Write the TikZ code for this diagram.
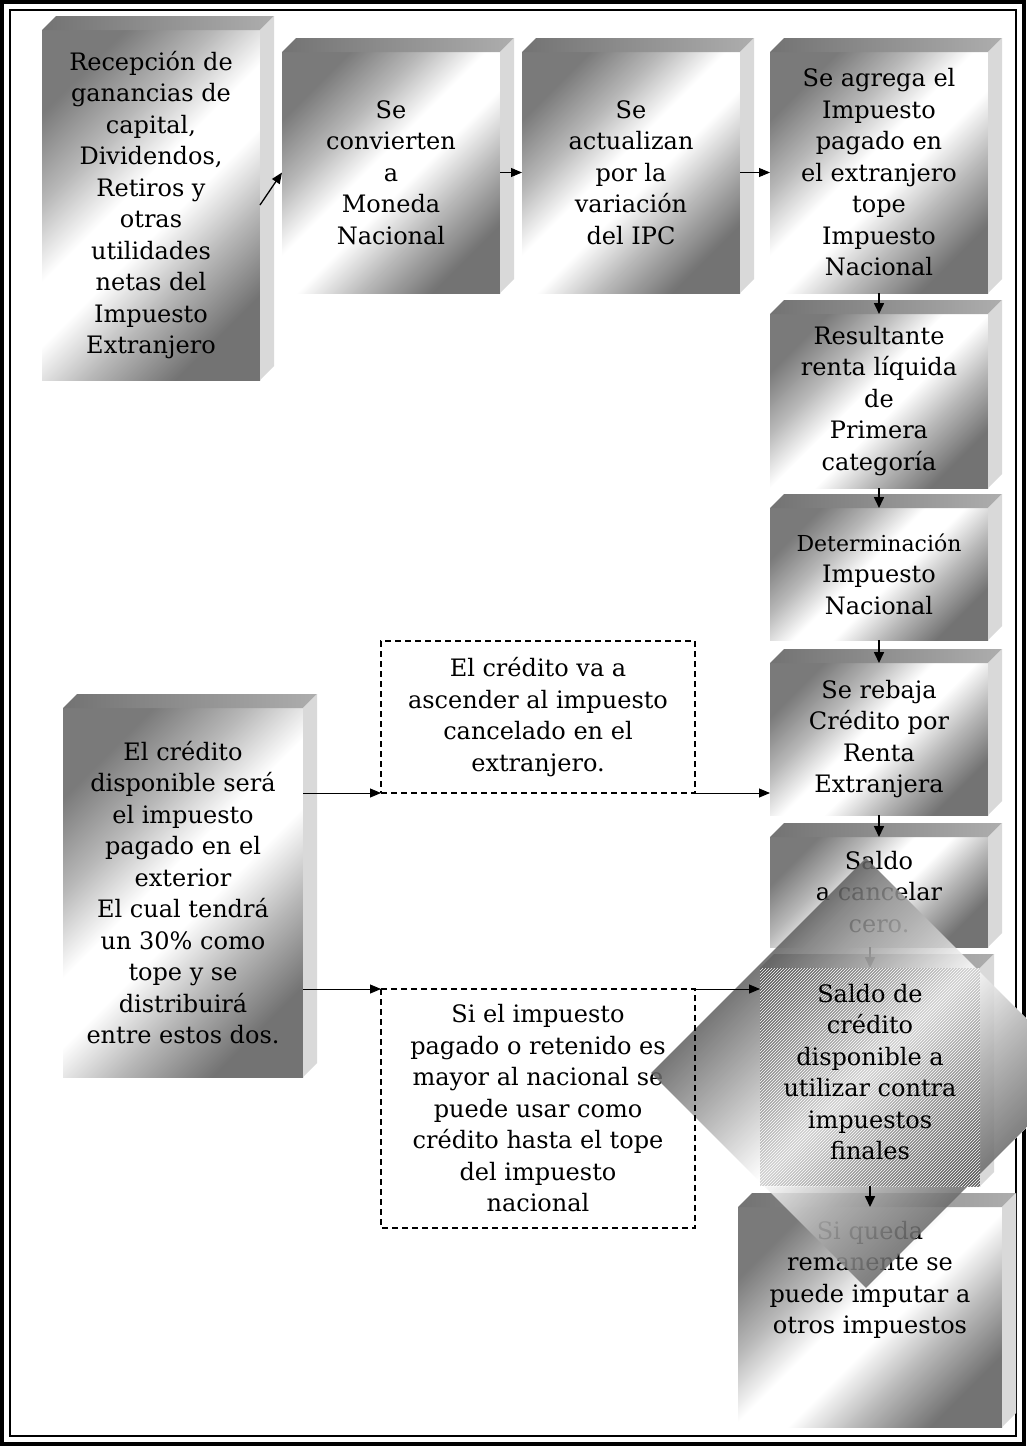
\documentclass[tikz,border=0pt]{standalone}
\usepackage{fontspec}
\setmainfont{DejaVu Serif}
\usetikzlibrary{arrows.meta,patterns}
\pgfdeclareverticalshading{boxsh}{100bp}{color(0bp)=(black!55); color(25bp)=(black!55); color(36bp)=(black!28); color(46bp)=(white); color(54bp)=(white); color(64bp)=(black!28); color(75bp)=(black!52); color(100bp)=(black!52)}
\pgfdeclareverticalshading{diash}{100bp}{color(0bp)=(black!58); color(25bp)=(black!58); color(38bp)=(black!30); color(50bp)=(white); color(62bp)=(black!30); color(75bp)=(black!62); color(100bp)=(black!62)}
\tikzset{
  face/.style={shade, shading=boxsh, shading angle=45, inner sep=0pt, outer sep=0pt, align=center,
    font=\fontsize{24}{31.5}\selectfont},
  sz/.style 2 args={minimum width=#1, minimum height=#2},
  topface/.style={left color=black!55, right color=black!32},
  sideface/.style={fill=black!15},
  txt/.style={align=center, inner sep=0pt, font=\fontsize{24}{31.5}\selectfont},
  dbox/.style={align=center, inner sep=0pt, outer sep=0pt, font=\fontsize{24}{31.5}\selectfont},
  dashline/.style={line width=1.2pt, dash pattern=on 6pt off 4pt},
  arr/.style={-{Triangle[length=11pt,width=9pt]}, line width=0.9pt},
  varr/.style={-{Triangle[length=11pt,width=10pt]}, line width=1.6pt}
}
\newcommand\boxsides[1]{%
  \shade[topface] (#1.north west) -- ++(14,-14) -- ([shift={(14,-14)}]#1.north east) -- (#1.north east) -- cycle;
  \fill[sideface] (#1.north east) -- ++(14,-14) -- ([shift={(14,-14)}]#1.south east) -- (#1.south east) -- cycle;}
\begin{document}
\begin{tikzpicture}[x=1pt,y=-1pt]
\useasboundingbox (0,0) rectangle (1026,1446);
\fill[white] (0,0) rectangle (1026,1446);
% frame
\draw[line width=4pt] (2,2) rectangle (1024,1444);
\draw[line width=1.5pt] (10,10) rectangle (1016,1436);

% top row
\node[face, sz={218pt}{350pt}] (B1) at (151,205) {Recepción de\\ganancias de\\capital,\\Dividendos,\\Retiros y\\otras\\utilidades\\netas del\\Impuesto\\Extranjero};
\boxsides{B1}
\node[face, sz={218pt}{241pt}] (B2) at (391,172.5) {Se\\convierten\\a\\Moneda\\Nacional};
\boxsides{B2}
\node[face, sz={218pt}{241pt}] (B3) at (631,172.5) {Se\\actualizan\\por la\\variación\\del IPC};
\boxsides{B3}
\node[face, sz={218pt}{241pt}] (B4) at (879,172.5) {Se agrega el\\Impuesto\\pagado en\\el extranjero\\tope\\Impuesto\\Nacional};
\boxsides{B4}
% right column
\node[face, sz={218pt}{174pt}] (B5) at (879,401) {Resultante\\renta líquida\\de\\Primera\\categoría};
\boxsides{B5}
\node[face, sz={218pt}{132pt}] (B6) at (879,574) {{\fontsize{22}{31.5}\selectfont Determinación}\\Impuesto\\Nacional};
\boxsides{B6}
\node[face, sz={218pt}{152pt}] (B7) at (879,739) {Se rebaja\\Crédito por\\Renta\\Extranjera};
\boxsides{B7}
\node[face, sz={218pt}{110pt}] (B8) at (879,892) {Saldo\\a cancelar\\cero.};
\boxsides{B8}
\node[face, sz={220pt}{218pt}] (B9) at (870,1077) {};
\boxsides{B9}
\node[face, sz={264pt}{220pt}] (B10) at (870,1317) {};
\boxsides{B10}
\node[txt] (B10t) at (870,1280) {Si queda\\remanente se\\puede imputar a\\otros impuestos};

% left box
\node[face, sz={240pt}{369pt}] (L) at (183,892.5) {El crédito\\disponible será\\el impuesto\\pagado en el\\exterior\\El cual tendrá\\un 30\% como\\tope y se\\distribuirá\\entre estos dos.};
\boxsides{L}

% dashed boxes
\node[dbox, dashline, draw, sz={314pt}{152pt}] (A) at (538,717) {El crédito va a\\ascender al impuesto\\cancelado en el\\extranjero.};
\node[dbox, sz={314pt}{239pt}] (B) at (538,1108.5) {Si el impuesto\\pagado o retenido es\\mayor al nacional se\\puede usar como\\crédito hasta el tope\\del impuesto\\nacional};

% arrow under the diamond
\draw[varr] (B8.south -| B9.north) -- (B9.north);

% diamond
\begin{scope}
  \clip (1003,0) rectangle (1026,1446);
  \fill[white] (866,858) -- (1081,1073) -- (866,1288) -- (651,1073) -- cycle;
\end{scope}
\begin{scope}[transform canvas={shift={(866,1073)}, rotate=45}]
  \shade[shading=diash, fill opacity=0.86]
    (-152,-152) rectangle (152,152);
\end{scope}
% hatched overlap
\fill[black, opacity=0.18] (B9.north west) rectangle (B9.south east);
\fill[pattern=north east lines, pattern color=white] (B9.north west) rectangle (B9.south east);

% elements over the diamond
\draw[dashline] (B.north west) rectangle (B.south east);
\node[txt] (B9t) at (870,1072) {Saldo de\\crédito\\disponible a\\utilizar contra\\impuestos\\finales};

% connectors
\draw[arr, line width=1.3pt] (B1.east) -- (B2.west);
\draw[arr] (B2.east) -- (B3.west);
\draw[arr] (B3.east) -- (B4.west);
\draw[varr] (B4.south) -- (B5.north);
\draw[varr] (B5.south) -- (B6.north);
\draw[varr] (B6.south) -- (B7.north);
\draw[varr] (B7.south) -- (B8.north);
\draw[varr] (B9.south) -- (B10.north);
\draw[arr] (L.east |- A.south west) -- (A.south west);
\draw[arr] (A.south east) -- (B7.west |- A.south east);
\draw[arr] (L.east |- B.north west) -- (B.north west);
\draw[arr] (B.north east) -- (B9.west |- B.north east);
\end{tikzpicture}
\end{document}
